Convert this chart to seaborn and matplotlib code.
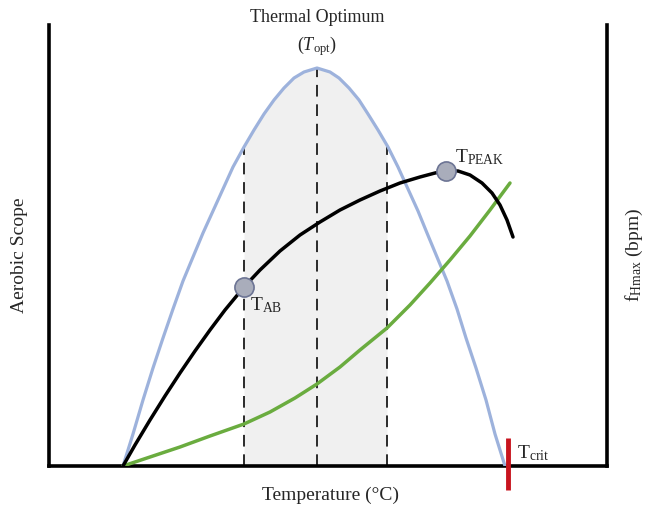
import matplotlib
matplotlib.use("Agg")
import matplotlib.pyplot as plt
import seaborn as sns
import numpy as np

# ---- data (x: temperature units, y: scope units; arbitrary scale) ----
blue_x = [74, 84, 94, 104, 114, 124, 134, 144, 154, 164, 174, 184, 195, 205, 215, 225, 235, 245, 255, 268,
          281, 290, 300, 310, 319, 329, 339, 349, 359, 369, 378, 388, 398, 408, 417, 427, 437, 446, 456]
blue_y = [0, 32, 66, 98, 128, 157, 185, 209, 233, 255, 277, 299, 319, 336, 352, 366, 378, 388, 394, 398,
          394, 388, 378, 366, 352, 336, 319, 299, 277, 255, 233, 209, 185, 157, 128, 98, 66, 32, 0]

black_x = [74, 86, 101, 116, 131, 146, 161, 176, 195, 211, 231, 251, 271, 291, 311, 331, 351, 371,
           386, 397, 409, 421, 433, 443, 451, 458, 464]
black_y = [0, 21, 46, 70, 93, 115, 136, 156, 179, 196, 215, 231, 244, 256, 266, 275, 283, 289,
           293, 295, 295, 291, 283, 273, 261, 246, 229]

green_x = [74, 101, 131, 161, 195, 221, 246, 268, 291, 311, 338, 361, 381, 401, 421, 441, 461]
green_y = [0, 9, 19, 30, 42, 54, 68, 82, 99, 116, 138, 161, 183, 206, 230, 256, 283]

dash_x = [195, 268, 338]          # T_AB, T_opt, upper bound
tab = (195, 179)
tpeak = (397, 295)
tcrit_x = 459

sns.set_theme(style="white")
plt.rcParams["font.family"] = ["Liberation Serif", "DejaVu Serif"]
plt.rcParams["mathtext.fontset"] = "custom"
plt.rcParams["mathtext.rm"] = "Liberation Serif"
plt.rcParams["mathtext.it"] = "Liberation Serif:italic"

fig = plt.figure(figsize=(6.52, 5.12), dpi=100)
ax = fig.add_axes([49/652, 46/512, 558/652, 441/512])
ax.set_xlim(0, 558)
ax.set_ylim(0, 441)

blue_c = "#9db2dc"
green_c = "#6aac3f"

# shaded region under the blue curve between the outer dashed lines
fx = np.linspace(dash_x[0], dash_x[2], 200)
fy = np.interp(fx, blue_x, blue_y)
ax.fill_between(fx, 0, fy, color="#f0f0f0", zorder=1, lw=0)

sns.lineplot(x=blue_x, y=blue_y, ax=ax, color=blue_c, lw=2.3, zorder=3, sort=False)
sns.lineplot(x=green_x, y=green_y, ax=ax, color=green_c, lw=2.5, zorder=4, sort=False)
sns.lineplot(x=black_x, y=black_y, ax=ax, color="black", lw=2.5, zorder=5, sort=False)

for dx in dash_x:
    top = np.interp(dx, blue_x, blue_y)
    ax.plot([dx, dx], [0, top], color="#2a2a2a", lw=1.4, ls=(0, (6, 4)), zorder=2)

ax.scatter([tab[0], tpeak[0]], [tab[1], tpeak[1]], s=190, color="#a9adbb",
           edgecolor="#6c7494", linewidth=1.2, zorder=6)

ax.plot([tcrit_x, tcrit_x], [-24, 28], color="#c8141e", lw=3.5, zorder=7, clip_on=False,
        solid_capstyle="butt")

ax.text(tab[0] + 6, tab[1] - 8, r"T$_{\mathrm{AB}}$", fontsize=14, va="top", ha="left")
ax.text(tpeak[0] + 9, tpeak[1] + 4, r"T$_{\mathrm{PEAK}}$", fontsize=14, va="bottom", ha="left")
ax.text(tcrit_x + 9, 3, r"T$_{\mathrm{crit}}$", fontsize=14, va="bottom", ha="left")

fig.text(317/652, 1 - 17/512, "Thermal Optimum", fontsize=13, ha="center", va="center")
fig.text(317/652, 1 - 46/512, r"$(T_{\mathrm{opt}})$", fontsize=13, ha="center", va="center")

ax.set_xticks([])
ax.set_yticks([])
for s in ["left", "right", "bottom"]:
    ax.spines[s].set_color("black")
    ax.spines[s].set_linewidth(2.6)
ax.spines["top"].set_visible(False)

fig.text(20/652, 1 - 255/512, "Aerobic Scope", fontsize=14, rotation=90, ha="center", va="center")
fig.text(634/652, 1 - 255/512, r"f$_{\mathrm{Hmax}}$ (bpm)", fontsize=14, rotation=90,
         ha="center", va="center")
fig.text(330/652, 1 - 495/512, "Temperature (°C)", fontsize=14, ha="center", va="center")

fig.savefig("out.png", dpi=100)
